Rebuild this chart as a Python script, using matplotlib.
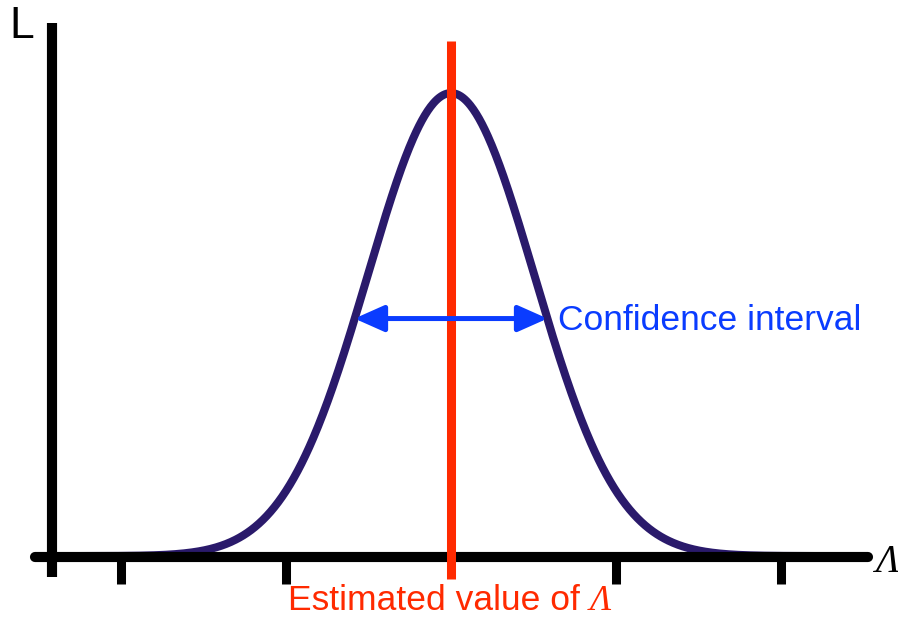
import numpy as np
import matplotlib
matplotlib.use("Agg")
import matplotlib.pyplot as plt

# ---- data ----
tick_positions = [1, 2, 4, 5]
mu = 3.0            # estimated value
sigma = 0.505       # width of likelihood
peak = 1.0
ci_bounds = [2.415, 3.585]
ci_level = 0.515
x_axis_range = [0.48, 5.527]
y_axis_range = [-0.043, 1.153]
red_line_range = [-0.048, 1.114]
tick_depth = -0.058

fig = plt.figure(figsize=(8.98, 6.17), dpi=100)
ax = fig.add_axes([0, 0, 1, 1])
ax.set_xlim(0.2667, 5.709)
ax.set_ylim(-0.1296, 1.203)
ax.axis("off")

black = "black"
navy = "#2a1a6b"
red = "#ff2a00"
blue = "#0a3cff"

# axes
ax.plot(x_axis_range, [0, 0], color=black, lw=7.3, solid_capstyle="round", zorder=3)
ax.plot([0.582, 0.582], y_axis_range, color=black, lw=7.3, solid_capstyle="butt", zorder=3)
for t in tick_positions:
    ax.plot([t, t], [0, tick_depth], color=black, lw=6.5, solid_capstyle="butt", zorder=3)

# curve
xs = np.linspace(0.7, 5.4, 800)
ys = peak * np.exp(-(xs - mu) ** 2 / (2 * sigma ** 2))
ax.plot(xs, ys + 0.002, color=navy, lw=5.8, zorder=2, solid_capstyle="round")

# estimate line
ax.plot([mu, mu], red_line_range, color=red, lw=6.5, solid_capstyle="butt", zorder=4)

# confidence interval arrow
ax.annotate("", xy=(ci_bounds[0], ci_level), xytext=(ci_bounds[1], ci_level),
            arrowprops=dict(arrowstyle="<|-|>,head_length=1.8,head_width=0.8",
                            color=blue, lw=3.6, shrinkA=0, shrinkB=0), zorder=5)

ax.text(3.648, 0.490, "Confidence interval", color=blue,
        fontsize=25.5, family="Liberation Sans", ha="left", va="baseline")

t1 = ax.text(2.012, -0.1145, "Estimated value of ", color=red, fontsize=25.5,
             family="Liberation Sans", ha="left", va="baseline")
fig.canvas.draw()
bb = t1.get_window_extent(renderer=fig.canvas.get_renderer())
x_end = ax.transData.inverted().transform((bb.x1, bb.y0))[0]
ax.text(x_end, -0.1145, "Λ", color=red, fontsize=25.5, family="Liberation Serif",
        style="italic", ha="left", va="baseline")

ax.text(0.321, 1.121, "L", color=black, fontsize=32, family="Liberation Sans",
        ha="left", va="baseline")
ax.text(5.57, -0.0324, "Λ", color=black, fontsize=28, family="Liberation Serif",
        style="italic", ha="left", va="baseline")

fig.savefig("out.png", dpi=100)
